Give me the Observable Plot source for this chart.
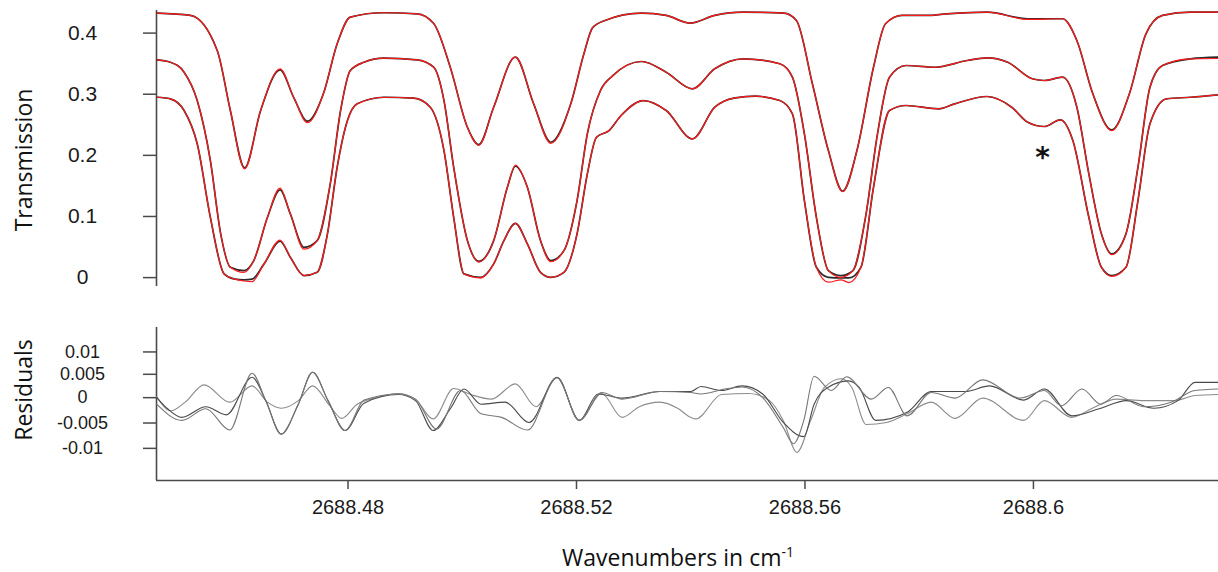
<!DOCTYPE html>
<html>
<head>
<meta charset="utf-8">
<script src="https://cdn.jsdelivr.net/npm/d3@7"></script>
<script src="https://cdn.jsdelivr.net/npm/@observablehq/plot@0.6"></script>
<style>
  body { margin: 0; background: #fff; }
  #chart { position: relative; width: 1218px; height: 572px; overflow: hidden; background: #fff; }
  #top { position: absolute; left: 0; top: 0; }
  #bottom { position: absolute; left: 0; top: 300px; }
  .ytitle { position: absolute; font-family: "Open Sans", sans-serif; font-size: 23px; color: #111;
            white-space: nowrap; transform: translate(-50%, -50%) rotate(-90deg); }
  #xtitle { position: absolute; top: 546px; left: 678px; transform: translateX(-50%);
            font-family: "Open Sans", sans-serif; font-size: 23px; line-height: 23px; color: #111; white-space: nowrap; }
  #xtitle sup { font-size: 14px; vertical-align: 9px; line-height: 0; }
</style>
</head>
<body>
<div id="chart">
  <div id="top"></div>
  <div id="bottom"></div>
  <div class="ytitle" style="left:23px; top:160px;">Transmission</div>
  <div class="ytitle" style="left:23px; top:390px;">Residuals</div>
  <div id="xtitle">Wavenumbers in cm<sup>-1</sup></div>
</div>
<script>
// Wavenumber window (cm^-1)
const xDomain = [2688.44647, 2688.63240];

// Axis ticks and their printed labels
const xTicks = [2688.48, 2688.52, 2688.56, 2688.6];
const xTickLabels = ["2688.48", "2688.52", "2688.56", "2688.6"];
const transTicks = [0, 0.1, 0.2, 0.3, 0.4];
const transTickLabels = ["0", "0.1", "0.2", "0.3", "0.4"];
const residTicks = [0.01, 0.005, 0, -0.005, -0.01];
const residTickLabels = ["0.01", "0.005", "0", "-0.005", "-0.01"];

// Spectrum A (highest baseline): wavenumbers, measured and fitted transmission
const xA = [2688.4466, 2688.4524, 2688.4571, 2688.4594, 2688.4619, 2688.4647, 2688.4681, 2688.4705, 2688.4729, 2688.4757,
  2688.4781, 2688.4804, 2688.4862, 2688.4921, 2688.4950, 2688.4979, 2688.5009, 2688.5029, 2688.5055, 2688.5093,
  2688.5125, 2688.5155, 2688.5190, 2688.5213, 2688.5228, 2688.5250, 2688.5314, 2688.5357, 2688.5399, 2688.5442,
  2688.5492, 2688.5563, 2688.5585, 2688.5613, 2688.5641, 2688.5666, 2688.5691, 2688.5720, 2688.5741, 2688.5770,
  2688.5812, 2688.5848, 2688.5919, 2688.5990, 2688.6051, 2688.6076, 2688.6104, 2688.6137, 2688.6168, 2688.6197,
  2688.6226, 2688.6275, 2688.6324];
const obsA = [0.4391, 0.4354, 0.3781, 0.2799, 0.1861, 0.2799, 0.3465, 0.3011, 0.2624, 0.3077,
  0.3890, 0.4326, 0.4398, 0.4381, 0.4223, 0.3507, 0.2525, 0.2242, 0.2853, 0.3671,
  0.2908, 0.2280, 0.2908, 0.3727, 0.4150, 0.4272, 0.4391, 0.4354, 0.4228, 0.4354,
  0.4408, 0.4391, 0.4272, 0.3236, 0.2144, 0.1478, 0.2144, 0.3507, 0.4218, 0.4354,
  0.4354, 0.4381, 0.4408, 0.4300, 0.4300, 0.3944, 0.3072, 0.2483, 0.3072, 0.4054,
  0.4354, 0.4408, 0.4408];
const fitA = [0.4391, 0.4354, 0.3781, 0.2799, 0.1845, 0.2799, 0.3480, 0.3011, 0.2600, 0.3077,
  0.3890, 0.4326, 0.4398, 0.4381, 0.4223, 0.3507, 0.2525, 0.2230, 0.2853, 0.3671,
  0.2908, 0.2262, 0.2908, 0.3727, 0.4150, 0.4272, 0.4391, 0.4354, 0.4228, 0.4354,
  0.4408, 0.4391, 0.4272, 0.3236, 0.2144, 0.1470, 0.2144, 0.3507, 0.4218, 0.4354,
  0.4354, 0.4381, 0.4408, 0.4290, 0.4300, 0.3944, 0.3072, 0.2470, 0.3072, 0.4054,
  0.4354, 0.4408, 0.4408];

// Spectrum B (middle baseline)
const xB = [2688.4466, 2688.4489, 2688.4513, 2688.4536, 2688.4559, 2688.4577, 2688.4594, 2688.4618, 2688.4635, 2688.4659,
  2688.4681, 2688.4699, 2688.4723, 2688.4746, 2688.4769, 2688.4787, 2688.4804, 2688.4828, 2688.4863, 2688.4921,
  2688.4950, 2688.4968, 2688.4985, 2688.5009, 2688.5029, 2688.5055, 2688.5079, 2688.5093, 2688.5114, 2688.5137,
  2688.5155, 2688.5178, 2688.5201, 2688.5219, 2688.5242, 2688.5264, 2688.5314, 2688.5357, 2688.5403, 2688.5442,
  2688.5492, 2688.5556, 2688.5578, 2688.5599, 2688.5620, 2688.5641, 2688.5663, 2688.5684, 2688.5706, 2688.5727,
  2688.5748, 2688.5777, 2688.5827, 2688.5884, 2688.5919, 2688.5955, 2688.5998, 2688.6019, 2688.6051, 2688.6076,
  2688.6097, 2688.6119, 2688.6137, 2688.6162, 2688.6183, 2688.6204, 2688.6226, 2688.6275, 2688.6324];
const obsB = [0.3628, 0.3589, 0.3426, 0.2962, 0.1980, 0.0786, 0.0234, 0.0180, 0.0344, 0.1052,
  0.1501, 0.1108, 0.0561, 0.0671, 0.1604, 0.2799, 0.3453, 0.3589, 0.3655, 0.3628,
  0.3507, 0.2962, 0.1871, 0.0671, 0.0332, 0.0671, 0.1543, 0.1887, 0.1543, 0.0671,
  0.0344, 0.0507, 0.1326, 0.2417, 0.3126, 0.3372, 0.3601, 0.3426, 0.3154, 0.3481,
  0.3645, 0.3563, 0.3344, 0.2417, 0.1052, 0.0180, 0.0098, 0.0180, 0.1052, 0.2417,
  0.3344, 0.3535, 0.3507, 0.3617, 0.3661, 0.3589, 0.3318, 0.3290, 0.3344, 0.2853,
  0.1763, 0.0781, 0.0453, 0.0781, 0.1871, 0.3180, 0.3535, 0.3645, 0.3671];
const fitB = [0.3628, 0.3589, 0.3426, 0.2962, 0.1980, 0.0786, 0.0234, 0.0150, 0.0344, 0.1052,
  0.1530, 0.1108, 0.0530, 0.0671, 0.1604, 0.2799, 0.3453, 0.3589, 0.3655, 0.3628,
  0.3507, 0.2962, 0.1871, 0.0671, 0.0320, 0.0671, 0.1543, 0.1905, 0.1543, 0.0671,
  0.0325, 0.0507, 0.1326, 0.2417, 0.3126, 0.3372, 0.3601, 0.3426, 0.3154, 0.3481,
  0.3645, 0.3563, 0.3344, 0.2417, 0.1052, 0.0180, 0.0070, 0.0180, 0.1052, 0.2417,
  0.3344, 0.3535, 0.3507, 0.3617, 0.3661, 0.3589, 0.3318, 0.3290, 0.3344, 0.2853,
  0.1763, 0.0781, 0.0440, 0.0781, 0.1871, 0.3180, 0.3535, 0.3645, 0.3650];

// Spectrum C (lowest baseline)
const xC = [2688.4466, 2688.4489, 2688.4513, 2688.4536, 2688.4559, 2688.4583, 2688.4600, 2688.4618, 2688.4632, 2688.4653,
  2688.4681, 2688.4699, 2688.4723, 2688.4746, 2688.4764, 2688.4781, 2688.4799, 2688.4816, 2688.4863, 2688.4915,
  2688.4944, 2688.4968, 2688.4985, 2688.5003, 2688.5032, 2688.5055, 2688.5073, 2688.5093, 2688.5114, 2688.5137,
  2688.5155, 2688.5178, 2688.5201, 2688.5219, 2688.5235, 2688.5257, 2688.5278, 2688.5317, 2688.5357, 2688.5403,
  2688.5442, 2688.5478, 2688.5513, 2688.5556, 2688.5578, 2688.5599, 2688.5620, 2688.5641, 2688.5663, 2688.5677,
  2688.5698, 2688.5720, 2688.5748, 2688.5777, 2688.5834, 2688.5862, 2688.5919, 2688.5962, 2688.5990, 2688.6019,
  2688.6047, 2688.6069, 2688.6097, 2688.6119, 2688.6137, 2688.6162, 2688.6183, 2688.6204, 2688.6233, 2688.6275,
  2688.6324];
const obsC = [0.3016, 0.2990, 0.2799, 0.2254, 0.1052, 0.0126, 0.0044, 0.0028, 0.0040, 0.0290,
  0.0660, 0.0398, 0.0098, 0.0152, 0.0781, 0.1871, 0.2635, 0.2908, 0.3016, 0.3000,
  0.2853, 0.2144, 0.1052, 0.0126, 0.0070, 0.0290, 0.0671, 0.0954, 0.0617, 0.0152,
  0.0070, 0.0152, 0.0781, 0.1763, 0.2362, 0.2471, 0.2717, 0.2962, 0.2799, 0.2336,
  0.2853, 0.3007, 0.3033, 0.2962, 0.2745, 0.1326, 0.0234, 0.0070, 0.0060, 0.0060,
  0.0234, 0.1543, 0.2799, 0.2881, 0.2826, 0.2908, 0.3028, 0.2853, 0.2607, 0.2537,
  0.2647, 0.2308, 0.1052, 0.0234, 0.0098, 0.0234, 0.1326, 0.2581, 0.2990, 0.3016,
  0.3056];
const fitC = [0.3016, 0.2990, 0.2799, 0.2254, 0.1052, 0.0126, 0.0044, 0.0010, 0.0000, 0.0290,
  0.0680, 0.0398, 0.0098, 0.0152, 0.0781, 0.1871, 0.2635, 0.2908, 0.3016, 0.3000,
  0.2853, 0.2144, 0.1052, 0.0126, 0.0060, 0.0290, 0.0671, 0.0954, 0.0617, 0.0152,
  0.0070, 0.0152, 0.0781, 0.1763, 0.2362, 0.2471, 0.2717, 0.2962, 0.2799, 0.2336,
  0.2853, 0.3007, 0.3033, 0.2962, 0.2745, 0.1326, 0.0234, -0.0010, 0.0030, -0.0015,
  0.0234, 0.1543, 0.2799, 0.2881, 0.2826, 0.2908, 0.3028, 0.2853, 0.2607, 0.2537,
  0.2647, 0.2308, 0.1052, 0.0234, 0.0085, 0.0234, 0.1326, 0.2581, 0.2990, 0.3016,
  0.3056];

// Fit residuals [wavenumber, residual]
const residA = [[2688.4465, 0.0012], [2688.4490, -0.0016], [2688.4515, 0.0001], [2688.4548, 0.0035], [2688.4593, 0.0001],
  [2688.4632, 0.0033], [2688.4659, 0.0001], [2688.4683, -0.0011], [2688.4713, 0.0004], [2688.4738, 0.0033],
  [2688.4768, -0.0006], [2688.4789, -0.0031], [2688.4816, -0.0003], [2688.4840, 0.0007], [2688.4888, 0.0018],
  [2688.4918, 0.0007], [2688.4949, -0.0032], [2688.4985, 0.0028], [2688.5015, 0.0016], [2688.5051, 0.0007],
  [2688.5093, 0.0037], [2688.5129, -0.0008], [2688.5166, 0.0049], [2688.5205, -0.0035], [2688.5244, 0.0018],
  [2688.5280, -0.0029], [2688.5310, -0.0008], [2688.5346, 0.0001], [2688.5377, -0.0011], [2688.5400, -0.0029],
  [2688.5409, -0.0032], [2688.5454, 0.0016], [2688.5502, 0.0018], [2688.5538, 0.0004], [2688.5562, -0.0035],
  [2688.5586, -0.0098], [2688.5610, -0.0035], [2688.5634, 0.0030], [2688.5664, 0.0047], [2688.5682, 0.0030],
  [2688.5707, -0.0043], [2688.5743, -0.0039], [2688.5779, -0.0022], [2688.5821, 0.0001], [2688.5863, -0.0031],
  [2688.5911, 0.0009], [2688.5983, -0.0035], [2688.6019, 0.0004], [2688.6067, -0.0029], [2688.6103, -0.0011],
  [2688.6145, 0.0007], [2688.6193, 0.0004], [2688.6247, 0.0004], [2688.6283, 0.0014], [2688.6324, 0.0016]];
const residB = [[2688.4465, 0.0010], [2688.4484, -0.0012], [2688.4509, -0.0029], [2688.4551, -0.0008], [2688.4587, -0.0024],
  [2688.4632, 0.0050], [2688.4656, 0.0004], [2688.4683, -0.0062], [2688.4713, -0.0003], [2688.4738, 0.0060],
  [2688.4765, 0.0004], [2688.4795, -0.0055], [2688.4828, -0.0001], [2688.4888, 0.0016], [2688.4918, 0.0004],
  [2688.4949, -0.0055], [2688.4979, -0.0012], [2688.5003, 0.0027], [2688.5033, -0.0003], [2688.5075, 0.0001],
  [2688.5117, -0.0039], [2688.5166, 0.0050], [2688.5205, -0.0035], [2688.5238, 0.0017], [2688.5280, 0.0009],
  [2688.5346, 0.0022], [2688.5400, 0.0022], [2688.5418, 0.0032], [2688.5454, 0.0024], [2688.5490, 0.0033],
  [2688.5526, 0.0017], [2688.5562, -0.0039], [2688.5598, -0.0067], [2688.5616, -0.0003], [2688.5640, 0.0030],
  [2688.5676, 0.0043], [2688.5695, 0.0030], [2688.5724, -0.0035], [2688.5779, -0.0019], [2688.5821, 0.0022],
  [2688.5881, 0.0022], [2688.5923, 0.0033], [2688.5983, 0.0005], [2688.6019, 0.0027], [2688.6067, -0.0026],
  [2688.6115, -0.0012], [2688.6163, 0.0004], [2688.6211, -0.0011], [2688.6253, 0.0004], [2688.6283, 0.0040],
  [2688.6324, 0.0040]];
const residC = [[2688.4465, -0.0003], [2688.4509, -0.0035], [2688.4551, -0.0012], [2688.4593, -0.0054], [2688.4632, 0.0058],
  [2688.4656, 0.0004], [2688.4683, -0.0062], [2688.4713, -0.0003], [2688.4738, 0.0060], [2688.4765, 0.0004],
  [2688.4795, -0.0055], [2688.4828, 0.0005], [2688.4888, 0.0017], [2688.4918, 0.0007], [2688.4955, -0.0052],
  [2688.4997, 0.0024], [2688.5033, -0.0022], [2688.5069, -0.0029], [2688.5114, -0.0054], [2688.5166, 0.0049],
  [2688.5205, -0.0035], [2688.5244, 0.0020], [2688.5280, 0.0007], [2688.5346, 0.0022], [2688.5400, 0.0020],
  [2688.5418, 0.0017], [2688.5460, 0.0027], [2688.5490, 0.0031], [2688.5526, 0.0010], [2688.5562, -0.0049],
  [2688.5580, -0.0081], [2688.5598, -0.0035], [2688.5616, 0.0052], [2688.5646, 0.0024], [2688.5673, 0.0051],
  [2688.5716, 0.0007], [2688.5746, 0.0030], [2688.5779, -0.0026], [2688.5821, 0.0020], [2688.5863, 0.0009],
  [2688.5911, 0.0045], [2688.5977, 0.0009], [2688.6019, 0.0024], [2688.6049, -0.0006], [2688.6085, 0.0027],
  [2688.6118, -0.0003], [2688.6145, 0.0014], [2688.6193, -0.0008], [2688.6241, 0.0001], [2688.6283, 0.0024],
  [2688.6324, 0.0027]];

// Marker for the weak line in the lower spectra
const notes = [{x: 2688.6016, y: 0.202, text: "*"}];

const transDomain = [-0.008, 0.4435];
const residDomain = [-0.01535, 0.01482];
const axisGray = "#4a4a4a";
const tickFont = "'Liberation Sans', Arial, sans-serif";

const series = (xs, ys) => xs.map((x, i) => ({x, y: ys[i]}));
const pairs = (arr) => arr.map(([x, y]) => ({x, y}));
const labelOf = (ticks, labels) => { const m = new Map(ticks.map((t, i) => [t, labels[i]])); return d => m.get(d); };

const measured = [series(xA, obsA), series(xB, obsB), series(xC, obsC)];
const fitted = [series(xA, fitA), series(xB, fitB), series(xC, fitC)];

const topPlot = Plot.plot({
  width: 1218, height: 300,
  marginLeft: 156, marginRight: 0, marginTop: 10, marginBottom: 14,
  x: {domain: xDomain, axis: null, label: null},
  y: {domain: transDomain, axis: null, label: null},
  style: {fontFamily: tickFont, background: "transparent", overflow: "visible"},
  marks: [
    Plot.ruleX([xDomain[0]], {y1: transDomain[0], y2: transDomain[1], stroke: axisGray, strokeWidth: 1.6}),
    Plot.axisY(transTicks, {anchor: "left", label: null, tickSize: 13, tickPadding: 61, textAnchor: "middle",
      dy: -4, fontSize: 21, stroke: axisGray, strokeWidth: 1.5, fill: "#1a1a1a",
      tickFormat: labelOf(transTicks, transTickLabels)}),
    ...measured.map(d => Plot.line(d, {x: "x", y: "y", curve: "monotone-x", stroke: "#2a2a2a", strokeWidth: 1.7})),
    ...fitted.map(d => Plot.line(d, {x: "x", y: "y", curve: "monotone-x", stroke: "#ff1a1a", strokeWidth: 1.2})),
    Plot.text(notes, {x: "x", y: "y", text: "text", fontSize: 28, fontWeight: "bold", fill: "#111",
      fontFamily: "'DejaVu Sans', sans-serif"})
  ]
});
document.getElementById("top").appendChild(topPlot);

// Residual tick labels sit in three rows with slightly different offsets so they stay apart
const residAxis = (ticks, dy) => Plot.axisY(ticks, {anchor: "left", label: null, tickSize: 13, tickPadding: 61,
  textAnchor: "middle", dy, fontSize: 18, stroke: axisGray, strokeWidth: 1.5, fill: "#1a1a1a",
  tickFormat: labelOf(residTicks, residTickLabels)});

const residColors = ["#8c8c8c", "#4a4a4a", "#777777"];
const bottomPlot = Plot.plot({
  width: 1218, height: 220,
  marginLeft: 156, marginRight: 0, marginTop: 27, marginBottom: 40,
  x: {domain: xDomain, axis: null, label: null},
  y: {domain: residDomain, axis: null, label: null},
  style: {fontFamily: tickFont, background: "transparent", overflow: "visible"},
  marks: [
    Plot.ruleX([xDomain[0]], {y1: residDomain[0], y2: residDomain[1], stroke: axisGray, strokeWidth: 1.6}),
    Plot.ruleY([residDomain[0]], {stroke: axisGray, strokeWidth: 1.6}),
    residAxis(residTicks.slice(0, 1), 0),
    residAxis(residTicks.slice(1, 2), -3),
    residAxis(residTicks.slice(2), -5),
    Plot.axisX(xTicks, {anchor: "bottom", label: null, tickSize: 9, tickPadding: 10, fontSize: 20,
      stroke: axisGray, strokeWidth: 1.5, fill: "#1a1a1a",
      tickFormat: labelOf(xTicks, xTickLabels)}),
    ...[residA, residB, residC].map((r, i) => Plot.line(pairs(r), {x: "x", y: "y", curve: "monotone-x",
      stroke: residColors[i], strokeWidth: 1.1}))
  ]
});
document.getElementById("bottom").appendChild(bottomPlot);
</script>
</body>
</html>
